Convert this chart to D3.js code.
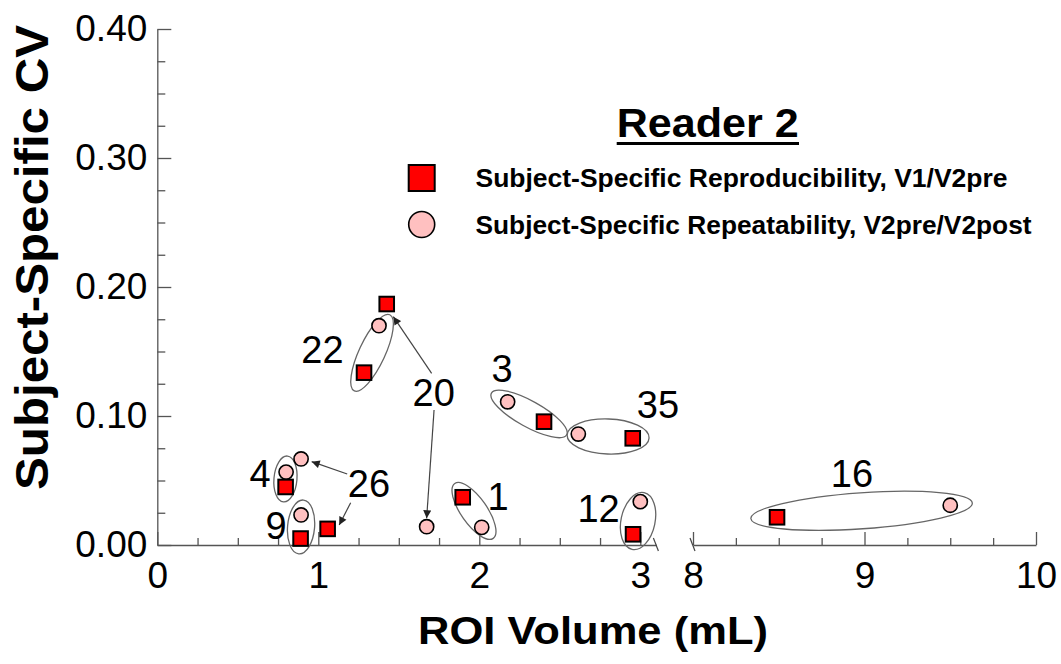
<!DOCTYPE html>
<html>
<head>
<meta charset="utf-8">
<style>
  body { margin: 0; background: #fff; }
  svg { font-family: "Liberation Sans", Arial, sans-serif; }
  .axis path, .axis line { stroke: #555; stroke-width: 1.3; }
  .axis text { font-size: 37px; fill: #000; }
  .ring { fill: none; stroke: #666; stroke-width: 1.3; }
  .pointer { stroke: #444; stroke-width: 1.2; fill: none; }
  .sq { fill: #ff0000; stroke: #000; stroke-width: 2; }
  .dot { fill: #ffc0c0; stroke: #000; stroke-width: 1.6; }
  .lbl { font-size: 38px; text-anchor: middle; fill: #000; }
  .bold { font-weight: bold; fill: #000; }
</style>
</head>
<body>
<svg width="1061" height="664"></svg>
<script src="https://cdn.jsdelivr.net/npm/d3@7"></script>
<script>
  // subject ids, one entry per subject
  var subjects = ["4", "9", "26", "22", "20", "1", "3", "35", "12", "16"];
  // reproducibility, V1/V2pre (squares)
  var reproVolume = [0.797, 0.890, 1.058, 1.284, 1.425, 1.897, 2.402, 2.953, 2.955, 8.49];
  var reproCV     = [0.0450, 0.0050, 0.0125, 0.1336, 0.1868, 0.0370, 0.0956, 0.0827, 0.0083, 0.0215];
  // repeatability, V2pre/V2post (circles)
  var repeatVolume = [0.800, 0.893, 0.893, 1.377, 1.673, 2.015, 2.176, 2.615, 3.000, 9.50];
  var repeatCV     = [0.0565, 0.0233, 0.0667, 0.1700, 0.0142, 0.0137, 0.1110, 0.0860, 0.0336, 0.0308];

  var xTicksLow = [0, 1, 2, 3];
  var xTicksHigh = [8, 9, 10];
  var yTicks = [0, 0.1, 0.2, 0.3, 0.4];
  var yTickLabels = ["0.00", "0.10", "0.20", "0.30", "0.40"];
  var legendTitle = "Reader 2";
  var legendLabels = ["Subject-Specific Reproducibility, V1/V2pre",
                      "Subject-Specific Repeatability, V2pre/V2post"];

  var svg = d3.select("svg");

  var x1 = d3.scaleLinear().domain([0, 3.1]).range([157.3, 656.4]),
      x2 = d3.scaleLinear().domain([8, 10]).range([693, 1036]),
      y = d3.scaleLinear().domain([0, 0.4]).range([545, 29]);

  function xs(v) { return v >= 8 ? x2(v) : x1(v); }

  // arrow head
  svg.append("defs").append("marker")
    .attr("id", "head")
    .attr("markerUnits", "userSpaceOnUse")
    .attr("viewBox", "0 0 10 10")
    .attr("refX", 10).attr("refY", 5)
    .attr("markerWidth", 10).attr("markerHeight", 8)
    .attr("orient", "auto")
    .append("path").attr("d", "M0,0L10,5L0,10z").attr("fill", "#222");

  // x axis, low segment
  var minorLow = d3.range(0.25, 3.01, 0.25).filter(function(d) { return Math.abs(d - Math.round(d)) > 1e-6; });
  svg.append("g").attr("class", "axis")
    .attr("transform", "translate(0," + y(0) + ")")
    .call(d3.axisBottom(x1).tickValues(xTicksLow).tickSize(-13).tickSizeOuter(0).tickPadding(17)
      .tickFormat(function(d) { return String(d); }));
  svg.append("g").attr("class", "axis")
    .attr("transform", "translate(0," + y(0) + ")")
    .call(d3.axisBottom(x1).tickValues(minorLow).tickSize(-7).tickFormat(""))
    .select(".domain").remove();

  // x axis, high segment
  var minorHigh = d3.range(8.25, 10, 0.25).filter(function(d) { return Math.abs(d - Math.round(d)) > 1e-6; });
  svg.append("g").attr("class", "axis")
    .attr("transform", "translate(0," + y(0) + ")")
    .call(d3.axisBottom(x2).tickValues(xTicksHigh).tickSize(-13).tickSizeOuter(0).tickPadding(17)
      .tickFormat(function(d) { return String(d); }));
  svg.append("g").attr("class", "axis")
    .attr("transform", "translate(0," + y(0) + ")")
    .call(d3.axisBottom(x2).tickValues(minorHigh).tickSize(-7).tickFormat(""))
    .select(".domain").remove();

  // break marks
  [x1(3.1), x2(8)].forEach(function(bx) {
    svg.append("line").attr("class", "pointer")
      .attr("x1", bx - 3).attr("y1", y(0) - 7)
      .attr("x2", bx + 2).attr("y2", y(0) + 6)
      .attr("stroke", "#555");
  });

  // y axis
  var minorY = d3.range(0.025, 0.4, 0.025).filter(function(d) { return Math.abs(d * 10 - Math.round(d * 10)) > 1e-6; });
  svg.append("g").attr("class", "axis")
    .attr("transform", "translate(" + x1(0) + ",0)")
    .call(d3.axisLeft(y).tickValues(yTicks).tickSize(-14).tickSizeOuter(0).tickPadding(10)
      .tickFormat(function(d, i) { return yTickLabels[i]; }));
  svg.append("g").attr("class", "axis")
    .attr("transform", "translate(" + x1(0) + ",0)")
    .call(d3.axisLeft(y).tickValues(minorY).tickSize(-8).tickFormat(""))
    .select(".domain").remove();

  // axis titles
  svg.append("text").attr("class", "bold")
    .attr("transform", "translate(48,257.5) rotate(-90)")
    .attr("text-anchor", "middle")
    .attr("font-size", 46)
    .attr("textLength", 465).attr("lengthAdjust", "spacingAndGlyphs")
    .text("Subject-Specific CV");
  svg.append("text").attr("class", "bold")
    .attr("x", 593).attr("y", 644)
    .attr("text-anchor", "middle")
    .attr("font-size", 38)
    .attr("textLength", 350).attr("lengthAdjust", "spacingAndGlyphs")
    .text("ROI Volume (mL)");

  // groupings drawn around each subject (center in data units, radii in px)
  var rings = [
    { cx: 0.796, cy: 0.0512, rx: 11.5, ry: 23, a: 5 },
    { cx: 0.893, cy: 0.0140, rx: 13.5, ry: 27, a: 5 },
    { cx: 1.334, cy: 0.1490, rx: 13, ry: 42, a: 25 },
    { cx: 1.967, cy: 0.0264, rx: 13, ry: 33.5, a: -35 },
    { cx: 2.309, cy: 0.1016, rx: 43, ry: 13, a: 29 },
    { cx: 2.800, cy: 0.0841, rx: 41, ry: 17.5, a: 2 },
    { cx: 2.986, cy: 0.0186, rx: 17, ry: 29, a: 12 },
    { cx: 8.983, cy: 0.0265, rx: 111, ry: 18, a: -4 }
  ];
  svg.append("g").selectAll("ellipse")
    .data(rings).enter().append("ellipse")
    .attr("class", "ring")
    .attr("rx", function(d) { return d.rx; })
    .attr("ry", function(d) { return d.ry; })
    .attr("transform", function(d) {
      return "translate(" + xs(d.cx) + "," + y(d.cy) + ") rotate(" + d.a + ")";
    });

  // pointers from labels 20 and 26
  var pointers = [
    { x0: 1.704, y0: 0.1331, x1: 1.466, y1: 0.1770 },
    { x0: 1.719, y0: 0.1047, x1: 1.673, y1: 0.0207 },
    { x0: 1.1795, y0: 0.0550, x1: 0.959, y1: 0.0646 },
    { x0: 1.201, y0: 0.0328, x1: 1.130, y1: 0.0155 }
  ];
  svg.append("g").selectAll("line")
    .data(pointers).enter().append("line")
    .attr("class", "pointer")
    .attr("x1", function(d) { return x1(d.x0); })
    .attr("y1", function(d) { return y(d.y0); })
    .attr("x2", function(d) { return x1(d.x1); })
    .attr("y2", function(d) { return y(d.y1); })
    .attr("marker-end", "url(#head)");

  // subject labels
  var labelPos = {
    "22": [1.026, 0.1412], "20": [1.717, 0.1078], "26": [1.315, 0.0370],
    "3": [2.141, 0.1260], "35": [3.110, 0.0984], "4": [0.638, 0.0450],
    "9": [0.737, 0.0047], "1": [2.116, 0.0271], "12": [2.741, 0.0178],
    "16": [8.927, 0.0450]
  };
  svg.append("g").selectAll("text")
    .data(subjects).enter().append("text")
    .attr("class", "lbl")
    .attr("x", function(d) { return xs(labelPos[d][0]); })
    .attr("y", function(d) { return y(labelPos[d][1]); })
    .text(function(d) { return d; });

  // points
  svg.append("g").selectAll("circle")
    .data(subjects).enter().append("circle")
    .attr("class", "dot")
    .attr("cx", function(d, i) { return xs(repeatVolume[i]); })
    .attr("cy", function(d, i) { return y(repeatCV[i]); })
    .attr("r", 7.1);
  svg.append("g").selectAll("rect")
    .data(subjects).enter().append("rect")
    .attr("class", "sq")
    .attr("x", function(d, i) { return xs(reproVolume[i]) - 7.3; })
    .attr("y", function(d, i) { return y(reproCV[i]) - 7.3; })
    .attr("width", 14.6).attr("height", 14.6);

  // legend
  var lg = svg.append("g");
  lg.append("text").attr("class", "bold")
    .attr("x", 616.7).attr("y", 137)
    .attr("font-size", 40)
    .attr("textLength", 182).attr("lengthAdjust", "spacingAndGlyphs")
    .text(legendTitle);
  lg.append("line")
    .attr("x1", 616.7).attr("x2", 799).attr("y1", 143.5).attr("y2", 143.5)
    .attr("stroke", "#000").attr("stroke-width", 3);
  lg.append("rect").attr("class", "sq")
    .attr("x", 408.7).attr("y", 165).attr("width", 26).attr("height", 26);
  lg.append("circle").attr("class", "dot")
    .attr("cx", 421.7).attr("cy", 224.5).attr("r", 13).attr("stroke-width", 2);
  var legendWidths = [532, 556], legendBase = [187, 233.5];
  lg.selectAll(".entry")
    .data(legendLabels).enter().append("text")
    .attr("class", "bold entry")
    .attr("x", 475.5)
    .attr("y", function(d, i) { return legendBase[i]; })
    .attr("font-size", 26)
    .attr("textLength", function(d, i) { return legendWidths[i]; })
    .attr("lengthAdjust", "spacingAndGlyphs")
    .text(function(d) { return d; });
</script>
</body>
</html>
